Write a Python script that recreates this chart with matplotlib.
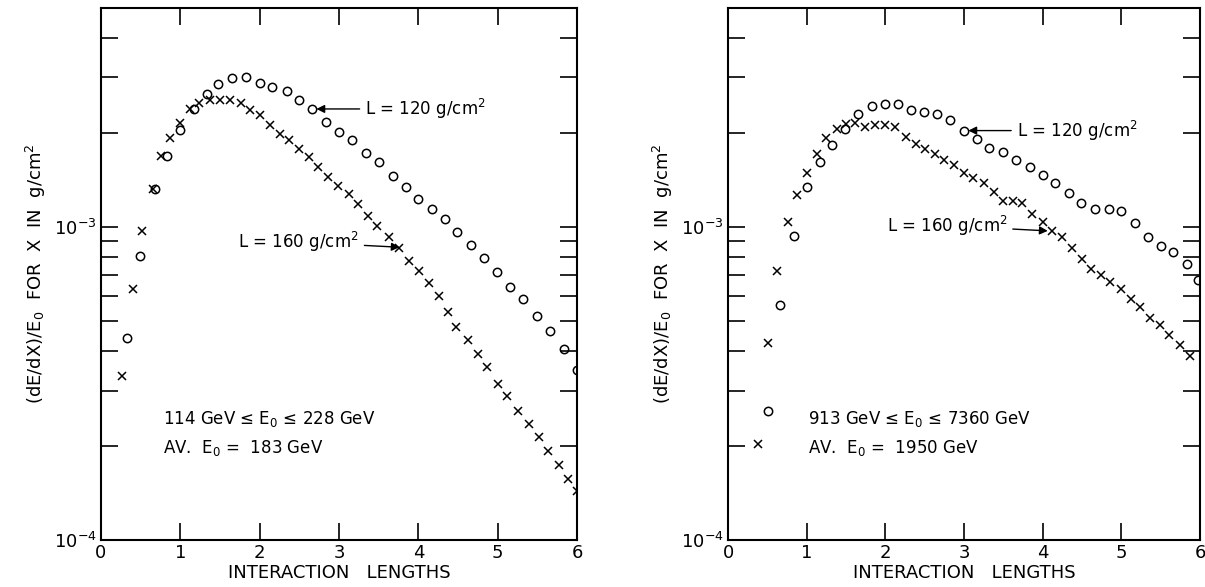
import numpy as np
import matplotlib
matplotlib.use("Agg")
import matplotlib.pyplot as plt
from matplotlib.ticker import FixedLocator, NullFormatter

# left panel (114-228 GeV)
l_o_x = [0.33, 0.49, 0.68, 0.83, 0.99, 1.17, 1.33, 1.48, 1.65, 1.83, 2.0, 2.16, 2.34, 2.49, 2.66, 2.83,
         3.0, 3.17, 3.34, 3.51, 3.68, 3.84, 4.0, 4.17, 4.34, 4.49, 4.66, 4.83, 4.99, 5.16, 5.32, 5.49,
         5.66, 5.84, 6.0]
l_o_y = [4.41e-4, 8.07e-4, 1.32e-3, 1.69e-3, 2.04e-3, 2.38e-3, 2.66e-3, 2.85e-3, 2.99e-3, 3.02e-3,
         2.89e-3, 2.80e-3, 2.71e-3, 2.55e-3, 2.38e-3, 2.17e-3, 2.01e-3, 1.89e-3, 1.72e-3, 1.61e-3,
         1.45e-3, 1.34e-3, 1.23e-3, 1.14e-3, 1.06e-3, 9.6e-4, 8.77e-4, 7.93e-4, 7.15e-4, 6.45e-4,
         5.88e-4, 5.21e-4, 4.64e-4, 4.07e-4, 3.49e-4]
l_x_x = [0.27, 0.40, 0.52, 0.65, 0.76, 0.87, 0.99, 1.12, 1.24, 1.37, 1.50, 1.63, 1.76, 1.88, 2.01,
         2.13, 2.25, 2.37, 2.50, 2.62, 2.74, 2.86, 2.99, 3.12, 3.24, 3.36, 3.48, 3.63, 3.76, 3.88,
         4.01, 4.14, 4.26, 4.37, 4.48, 4.63, 4.75, 4.87, 5.0, 5.12, 5.25, 5.39, 5.52, 5.64, 5.77,
         5.89, 6.0]
l_x_y = [3.33e-4, 6.34e-4, 9.7e-4, 1.32e-3, 1.68e-3, 1.92e-3, 2.14e-3, 2.38e-3, 2.48e-3, 2.55e-3,
         2.55e-3, 2.55e-3, 2.48e-3, 2.36e-3, 2.27e-3, 2.11e-3, 1.98e-3, 1.90e-3, 1.77e-3, 1.67e-3,
         1.55e-3, 1.44e-3, 1.35e-3, 1.27e-3, 1.18e-3, 1.08e-3, 1.01e-3, 9.3e-4, 8.58e-4, 7.78e-4,
         7.21e-4, 6.63e-4, 6.0e-4, 5.36e-4, 4.80e-4, 4.35e-4, 3.92e-4, 3.56e-4, 3.15e-4, 2.88e-4,
         2.58e-4, 2.34e-4, 2.13e-4, 1.92e-4, 1.73e-4, 1.57e-4, 1.43e-4]

# right panel (913-7360 GeV)
r_o_x = [0.51, 0.66, 0.84, 1.0, 1.17, 1.32, 1.49, 1.65, 1.83, 2.0, 2.16, 2.32, 2.49, 2.66, 2.82,
         3.0, 3.16, 3.32, 3.49, 3.66, 3.84, 4.0, 4.16, 4.34, 4.49, 4.66, 4.84, 5.0, 5.17, 5.34,
         5.5, 5.66, 5.84, 5.98]
r_o_y = [2.58e-4, 5.62e-4, 9.37e-4, 1.34e-3, 1.61e-3, 1.82e-3, 2.06e-3, 2.29e-3, 2.44e-3, 2.47e-3,
         2.47e-3, 2.37e-3, 2.33e-3, 2.30e-3, 2.19e-3, 2.03e-3, 1.91e-3, 1.79e-3, 1.73e-3, 1.63e-3,
         1.55e-3, 1.46e-3, 1.38e-3, 1.28e-3, 1.19e-3, 1.14e-3, 1.14e-3, 1.12e-3, 1.03e-3, 9.3e-4,
         8.69e-4, 8.29e-4, 7.59e-4, 6.79e-4]
r_x_x = [0.38, 0.51, 0.62, 0.76, 0.88, 1.0, 1.13, 1.25, 1.39, 1.50, 1.62, 1.74, 1.87, 2.0, 2.12,
         2.26, 2.39, 2.51, 2.63, 2.75, 2.87, 3.0, 3.12, 3.25, 3.38, 3.49, 3.62, 3.74, 3.86, 4.0,
         4.12, 4.25, 4.37, 4.50, 4.62, 4.74, 4.86, 4.99, 5.12, 5.24, 5.36, 5.49, 5.61, 5.74, 5.87]
r_x_y = [2.02e-4, 4.25e-4, 7.24e-4, 1.04e-3, 1.26e-3, 1.49e-3, 1.71e-3, 1.92e-3, 2.06e-3, 2.13e-3,
         2.15e-3, 2.08e-3, 2.12e-3, 2.12e-3, 2.08e-3, 1.93e-3, 1.84e-3, 1.77e-3, 1.71e-3, 1.63e-3,
         1.58e-3, 1.49e-3, 1.43e-3, 1.38e-3, 1.29e-3, 1.21e-3, 1.21e-3, 1.19e-3, 1.10e-3, 1.04e-3,
         9.7e-4, 9.25e-4, 8.57e-4, 7.92e-4, 7.34e-4, 7.04e-4, 6.69e-4, 6.35e-4, 5.90e-4, 5.55e-4,
         5.1e-4, 4.85e-4, 4.53e-4, 4.19e-4, 3.87e-4]

fig = plt.figure(figsize=(12.05, 5.87), dpi=100)
ax1 = fig.add_axes([101/1205, 1-540/587, 476/1205, 532/587])
ax2 = fig.add_axes([728/1205, 1-540/587, 472/1205, 532/587])

panels = [
    (ax1, l_o_x, l_o_y, l_x_x, l_x_y, "114 GeV \u2264 E$_0$ \u2264 228 GeV\nAV.  E$_0$ =  183 GeV",
     (2.68, 2.38e-3), (3.8, 8.6e-4)),
    (ax2, r_o_x, r_o_y, r_x_x, r_x_y, "913 GeV \u2264 E$_0$ \u2264 7360 GeV\nAV.  E$_0$ =  1950 GeV",
     (3.02, 2.03e-3), (4.1, 9.7e-4)),
]

for ax, ox, oy, xx, xy, txt, p120, p160 in panels:
    ax.set_yscale("log")
    ax.set_xlim(0, 6)
    ax.set_ylim(1e-4, 5e-3)
    ax.plot(ox, oy, "o", mfc="none", mec="black", ms=6, mew=1.1)
    ax.plot(xx, xy, "x", color="black", ms=6, mew=1.1)
    ax.yaxis.set_major_locator(FixedLocator([1e-4, 1e-3]))
    minors = [i * 1e-4 for i in range(2, 10)] + [i * 1e-3 for i in range(2, 5)]
    ax.yaxis.set_minor_locator(FixedLocator(minors))
    ax.yaxis.set_minor_formatter(NullFormatter())
    ax.set_yticks([1e-4, 1e-3], ["10$^{-4}$", "10$^{-3}$"])
    ax.set_xticks(range(7))
    ax.tick_params(which="both", direction="in", top=True, right=True, labelsize=13, width=1.2)
    ax.tick_params(which="major", length=12, pad=3)
    ax.tick_params(which="minor", length=12)
    for s in ax.spines.values():
        s.set_linewidth(1.5)
    ax.set_xlabel("INTERACTION   LENGTHS", fontsize=13, labelpad=1)
    ax.set_ylabel("(dE/dX)/E$_0$  FOR  X  IN  g/cm$^2$", fontsize=13)
    ax.text(0.13 if ax is ax1 else 0.17, 0.2, txt, transform=ax.transAxes, fontsize=12,
            linespacing=1.6, va="center")
    ax.annotate("L = 120 g/cm$^2$", xy=p120, xytext=(p120[0] + 0.65, p120[1]),
                fontsize=12, va="center",
                arrowprops=dict(arrowstyle="-|>", color="black", lw=1))
    ax.annotate("L = 160 g/cm$^2$", xy=p160, xytext=(p160[0] - 0.55, p160[1] * 1.04),
                fontsize=12, va="center", ha="right",
                arrowprops=dict(arrowstyle="-|>", color="black", lw=1))

fig.savefig("out.png")
